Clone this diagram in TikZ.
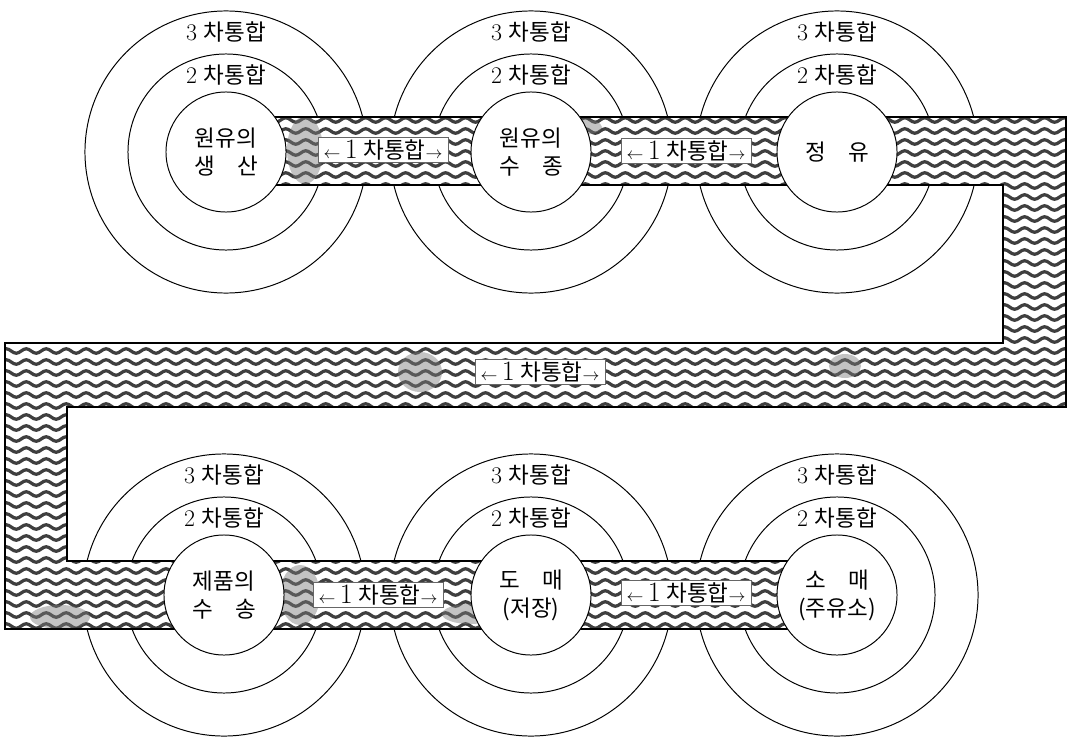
\documentclass[tikz,border=0pt]{standalone}
\usepackage{fontspec}
\newfontfamily\kr{Noto Sans CJK KR}
\usepackage{tikz}
\usetikzlibrary{decorations.pathmorphing}
\definecolor{wavegray}{HTML}{3F3F3F}
\definecolor{smear}{HTML}{7A7A7A}

\newcommand\chalabel[1]{{\fontsize{17}{17}\selectfont #1}\hspace{0.3em}{\kr 차통합}}
\newcommand\onelink{{\fontsize{13}{13}\selectfont$\leftarrow$}\hspace{0.2em}{\fontsize{20}{20}\selectfont 1}\hspace{0.25em}{\kr\fontsize{16}{18}\selectfont 차통합}{\fontsize{13}{13}\selectfont$\rightarrow$}}

\begin{document}
\begin{tikzpicture}[x=0.025cm,y=-0.025cm,
  font=\fontsize{16}{20}\selectfont,
  ring/.style={circle,draw,line width=0.7pt,inner sep=0pt},
  core/.style={ring,fill=white,minimum size=3cm,align=center,font=\kr\fontsize{16}{20}\selectfont},
  waveline/.style={wavegray,line width=2.3pt,decorate,decoration={snake,amplitude=1.6pt,segment length=14.2pt}},
  onebox/.style={fill=white,draw=black!60,line width=0.3pt,inner sep=1pt,minimum width=3.25cm,minimum height=0.62cm},
  smudge/.style={fill=smear,opacity=0.45}]
  \useasboundingbox (0,0) rectangle (1072,742);
  \def\bandpath{(270,117) -- (1066,117) -- (1066,407) -- (67,407) -- (67,561) -- (800,561) -- (800,629) -- (5,629) -- (5,343) -- (1003,343) -- (1003,185) -- (270,185) -- cycle}

  % outer and middle rings with their labels
  \foreach \n/\cx/\cy in {1/226/152,2/531/152,3/837/152,4/224/595,5/531/595,6/837/595}{
    \node[ring,minimum size=7.05cm] (outer\n) at (\cx,\cy) {};
    \node[ring,minimum size=4.9cm] (mid\n) at (\cx,\cy) {};
    \node (third\n) at (\cx,\cy-120) {\chalabel{3}};
    \node (second\n) at (\cx,\cy-77) {\chalabel{2}};
  }

  % the band
  \begin{scope}
    \clip \bandpath;
    \fill[white] (0,0) rectangle (1072,742);
    \foreach \y in {120,131,...,630}{\draw[waveline] (0,\y) -- (1085,\y);}
    \fill[smudge] (305,150) ellipse [x radius=18, y radius=34];
    \fill[smudge] (420,372) ellipse [x radius=22, y radius=20];
    \fill[smudge] (845,366) ellipse [x radius=16, y radius=12];
    \fill[smudge] (300,595) ellipse [x radius=20, y radius=30];
    \fill[smudge] (470,614) ellipse [x radius=28, y radius=10];
    \fill[smudge] (60,617) ellipse [x radius=30, y radius=12];
    \fill[smudge] (580,127) ellipse [x radius=22, y radius=8];
  \end{scope}
  \draw[line width=0.8pt] \bandpath;

  % inner circles
  \foreach \n/\cx/\cy/\txt in {1/226/152/{원유의\\생\quad 산},2/531/152/{원유의\\수\quad 종},3/837/152/{정\quad 유},
      4/224/595/{제품의\\수\quad 송},5/531/595/{도\quad 매\\(저장)},6/837/595/{소\quad 매\\(주유소)}}{
    \node[core] (inner\n) at (\cx,\cy) {\txt};
  }

  % first-stage links
  \node[onebox] (one1) at (383,150) {\onelink};
  \node[onebox] (one2) at (686,151) {\onelink};
  \node[onebox] (one3) at (540,372) {\onelink};
  \node[onebox] (one4) at (378,595) {\onelink};
  \node[onebox] (one5) at (686,593) {\onelink};
\end{tikzpicture}
\end{document}
